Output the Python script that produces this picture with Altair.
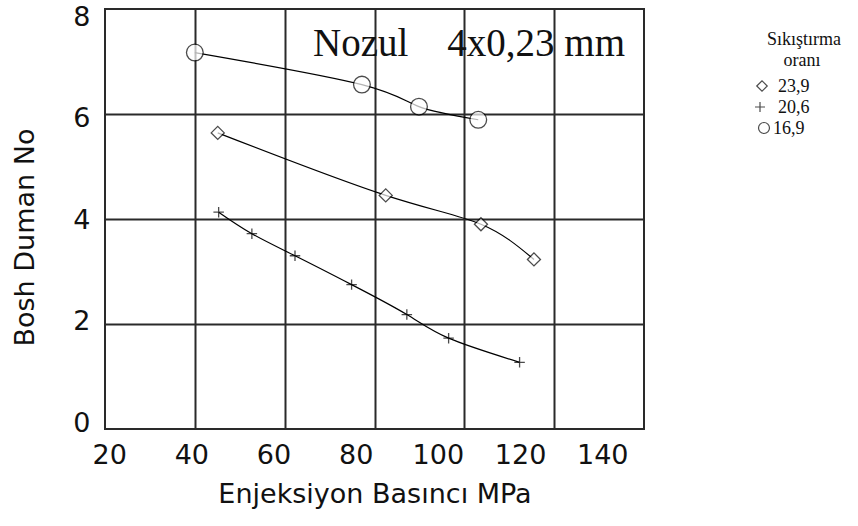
import altair as alt
import pandas as pd

# ---- data ----
series = ["23,9", "20,6", "16,9"]
p_239 = [45.1, 82.5, 103.7, 115.5]
n_239 = [5.64, 4.45, 3.90, 3.23]
p_206 = [45.3, 52.7, 62.3, 74.9, 87.2, 96.5, 112.3]
n_206 = [4.13, 3.72, 3.30, 2.75, 2.18, 1.73, 1.27]
p_169 = [40.0, 77.2, 89.9, 103.1]
n_169 = [7.17, 6.56, 6.14, 5.89]

x_ticks = [20, 40, 60, 80, 100, 120, 140]
y_ticks = [0, 2, 4, 6, 8]
grid_x = [40, 60, 80, 100, 120]
grid_y = [2, 4, 6]

note_text = "Nozul\u00a0\u00a0\u00a0\u00a04x0,23\u00a0mm"
x_title = "Enjeksiyon Basıncı MPa"
y_title = "Bosh Duman No"
legend_title = ["Sıkıştırma", "oranı"]

rows = []
for name, ps, ns in zip(series, [p_239, p_206, p_169], [n_239, n_206, n_169]):
    for p, n in zip(ps, ns):
        rows.append({"P": p, "N": n, "oran": name})
df = pd.DataFrame(rows)

PLUS = "M-1,0L1,0M0,-1L0,1"
shapes = ["diamond", PLUS, "circle"]
marker_sizes = [170, 110, 280]
W, H = 539, 420
INK = "#111111"
GRID = "#2a2a2a"
SANS = "DejaVu Sans"
SERIF = "Liberation Serif"

x_scale = alt.Scale(domain=[20, 140], nice=False, zero=False)
y_scale = alt.Scale(domain=[0, 8], nice=False, zero=False)
shape_scale = alt.Scale(domain=series, range=shapes)

lines = alt.Chart(df).mark_line(
    interpolate="natural", color="black", strokeWidth=1.2
).encode(
    x=alt.X("P:Q", scale=x_scale, axis=alt.Axis(
        values=grid_x, grid=True, labels=False, ticks=False, domain=False,
        title=None, gridColor=GRID, gridWidth=2, gridOpacity=1, orient="bottom")),
    y=alt.Y("N:Q", scale=y_scale, axis=alt.Axis(
        values=grid_y, grid=True, labels=False, ticks=False, domain=False,
        title=None, gridColor=GRID, gridWidth=2, gridOpacity=1, orient="left")),
    detail="oran:N",
)

point_layers = []
for name, sz in zip(series, marker_sizes):
    point_layers.append(
        alt.Chart(df).transform_filter(alt.datum.oran == name).mark_point(
            filled=True, fill="white", stroke="black", strokeWidth=1.3, size=sz
        ).encode(
            x=alt.X("P:Q", scale=x_scale, axis=None),
            y=alt.Y("N:Q", scale=y_scale, axis=None),
            shape=alt.Shape("oran:N", scale=shape_scale, legend=None),
        )
    )
points = alt.layer(*point_layers)

xlab = alt.Chart(pd.DataFrame({"xt": x_ticks})).mark_point(opacity=0).encode(
    x=alt.X("xt:Q", scale=alt.Scale(domain=[18.99, 150.17], nice=False, zero=False),
            axis=alt.Axis(values=x_ticks, grid=False, ticks=False, domain=False,
                          labelFont=SANS, labelFontSize=27, labelColor=INK, labelPadding=13,
                          labelFlush=False, labelOverlap=False,
                          title=x_title, titleFont=SANS, titleFontSize=27,
                          titleFontWeight="normal", titleColor=INK,
                          titleY=73, titleBaseline="alphabetic", orient="bottom")),
    y=alt.value(0),
)

ylab = alt.Chart(pd.DataFrame({"yt": y_ticks})).mark_point(opacity=0).encode(
    y=alt.Y("yt:Q", scale=alt.Scale(domain=[-0.118, 8.158], nice=False, zero=False),
            axis=alt.Axis(values=y_ticks, grid=False, ticks=False, domain=False,
                          labelFont=SANS, labelFontSize=27, labelColor=INK, labelPadding=15,
                          labelFlush=False, labelOverlap=False,
                          title=y_title, titleFont=SANS, titleFontSize=27,
                          titleFontWeight="normal", titleColor=INK,
                          titleX=-80, titleY=228, titleBaseline="middle", orient="left")),
    x=alt.value(0),
)

note = alt.Chart(pd.DataFrame({"t": [note_text]})).mark_text(
    font=SERIF, fontSize=39, color=INK, align="left", baseline="alphabetic"
).encode(text="t:N", x=alt.value(208), y=alt.value(47))

# ---- key (legend) drawn as annotation, to the right of the plot ----
OX, OY = 105, 9  # plot origin inside the page
KEY_FS = 18
key_layers = []
for line_txt, (cx, by) in zip(legend_title, [(804, 45), (802, 66)]):
    key_layers.append(
        alt.Chart(pd.DataFrame({"t": [line_txt]})).mark_text(
            font=SERIF, fontSize=KEY_FS, color=INK, align="center", baseline="alphabetic"
        ).encode(text="t:N", x=alt.value(cx - OX), y=alt.value(by - OY))
    )
key_sym_pos = [(762, 86), (760, 107), (764, 128)]
key_lab_pos = [(778, 92), (778, 113), (773, 134)]
key_sym_size = [110, 100, 120]
for name, shp, (sx, sy), (lx, ly), ss in zip(series, shapes, key_sym_pos, key_lab_pos, key_sym_size):
    key_layers.append(
        alt.Chart(pd.DataFrame({"t": [name]})).mark_point(
            filled=True, fill="white", stroke="black", strokeWidth=1.2, size=ss, shape=shp
        ).encode(x=alt.value(sx - OX), y=alt.value(sy - OY))
    )
    key_layers.append(
        alt.Chart(pd.DataFrame({"t": [name]})).mark_text(
            font=SERIF, fontSize=KEY_FS, color=INK, align="left", baseline="alphabetic"
        ).encode(text="t:N", x=alt.value(lx - OX), y=alt.value(ly - OY))
    )

chart = alt.layer(lines, points, xlab, ylab, note, *key_layers).resolve_scale(
    x="independent", y="independent"
).properties(
    width=W, height=H,
    autosize=alt.AutoSizeParams(type="none"),
    padding={"left": OX, "top": OY, "right": 858 - OX - W, "bottom": 526 - OY - H},
    background="white",
).configure_view(stroke=GRID, strokeWidth=2)

chart.save("out.html", embed_options={"renderer": "svg", "actions": False})
